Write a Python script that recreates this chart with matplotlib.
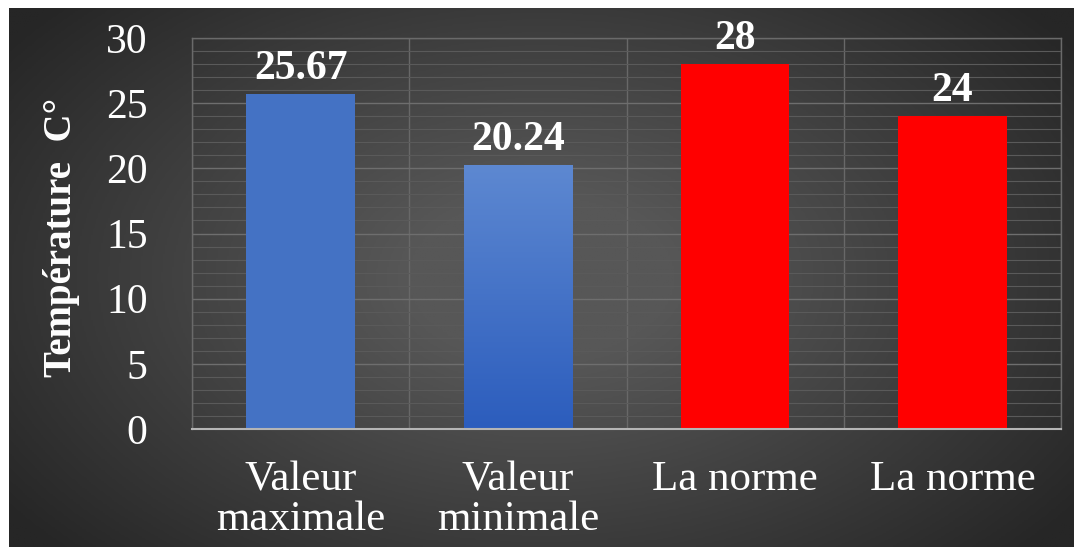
import numpy as np
import matplotlib.pyplot as plt
from matplotlib.colors import LinearSegmentedColormap
from matplotlib.ticker import MultipleLocator

categories = ['Valeur\nmaximale', 'Valeur\nminimale', 'La norme', 'La norme']
temperatures = [25.67, 20.24, 28, 24]
value_labels = ['25.67', '20.24', '28', '24']
bar_colors = ['#4472c4', '#4a78cc', '#ff0000', '#ff0000']

plt.rcParams['font.family'] = ['Liberation Serif', 'DejaVu Serif']

fig = plt.figure(figsize=(10.74, 5.47), dpi=100, facecolor='white')

# dark radial background panel
bg = fig.add_axes([9 / 1074, 0, 1 - 9 / 1074, 1 - 8 / 547])
bg.set_axis_off()
yy, xx = np.mgrid[0:1:300j, 0:1:600j]
r = np.sqrt(((xx - 0.5) / 0.62) ** 2 + ((yy - 0.5) / 0.75) ** 2)
shade = np.clip(1 - r, 0, 1)
bg_cmap = LinearSegmentedColormap.from_list('bg', ['#262626', '#575757'])
bg.imshow(shade, cmap=bg_cmap, aspect='auto', extent=[0, 1, 0, 1], vmin=0, vmax=0.8)

ax = fig.add_axes([192 / 1074, 1 - 429 / 547, (1061 - 192) / 1074, (429 - 38) / 547])
ax.patch.set_alpha(0)

x = np.arange(len(categories))
bars = ax.bar(x, temperatures, width=0.5, color=bar_colors, zorder=3)

# vertical gradient inside the second blue bar
grad = np.linspace(0, 1, 100).reshape(-1, 1)
blue_cmap = LinearSegmentedColormap.from_list('blue', ['#2c5dbd', '#5d88d1'])
b = bars[1]
im = ax.imshow(grad, cmap=blue_cmap, origin='lower', aspect='auto', zorder=4,
               extent=[b.get_x(), b.get_x() + b.get_width(), 0, b.get_height()])
im.set_clip_path(b)

for xi, h, lab in zip(x, temperatures, value_labels):
    ax.annotate(lab, (xi, h), xytext=(0, 11), textcoords='offset points',
                ha='center', va='baseline', fontsize=30, fontweight='bold',
                color='white', zorder=5)

ax.set_xlim(-0.5, len(categories) - 0.5)
ax.set_ylim(0, 30)
ax.yaxis.set_major_locator(MultipleLocator(5))
ax.yaxis.set_minor_locator(MultipleLocator(1))
ax.set_xticks(x)
ax.set_xticklabels(categories, fontsize=31, color='white', linespacing=1.05)
ax.set_xticks(np.arange(-0.5, len(categories)), minor=True)
ax.tick_params(axis='x', which='both', length=0, pad=23)
ax.tick_params(axis='y', which='both', length=0, pad=32, labelsize=30, labelcolor='white')

ax.grid(True, axis='y', which='major', color='#6e6e6e', linewidth=1.0, zorder=1)
ax.grid(True, axis='y', which='minor', color='#5a5a5a', linewidth=0.8, zorder=1)
ax.grid(True, axis='x', which='minor', color='#686868', linewidth=1.0, zorder=1)
ax.grid(False, axis='x', which='major')

for side in ['top', 'left', 'right']:
    ax.spines[side].set_color('#6a6a6a')
    ax.spines[side].set_linewidth(1.0)
ax.spines['bottom'].set_color('#b5b5b5')
ax.spines['bottom'].set_linewidth(1.5)
ax.spines['bottom'].set_zorder(6)

fig.text(62 / 1074, 1 - 237 / 547, 'Température  C°', rotation=90, ha='center',
         va='center', fontsize=28, fontweight='bold', color='white')

fig.savefig('out.png', dpi=100, facecolor='white')
